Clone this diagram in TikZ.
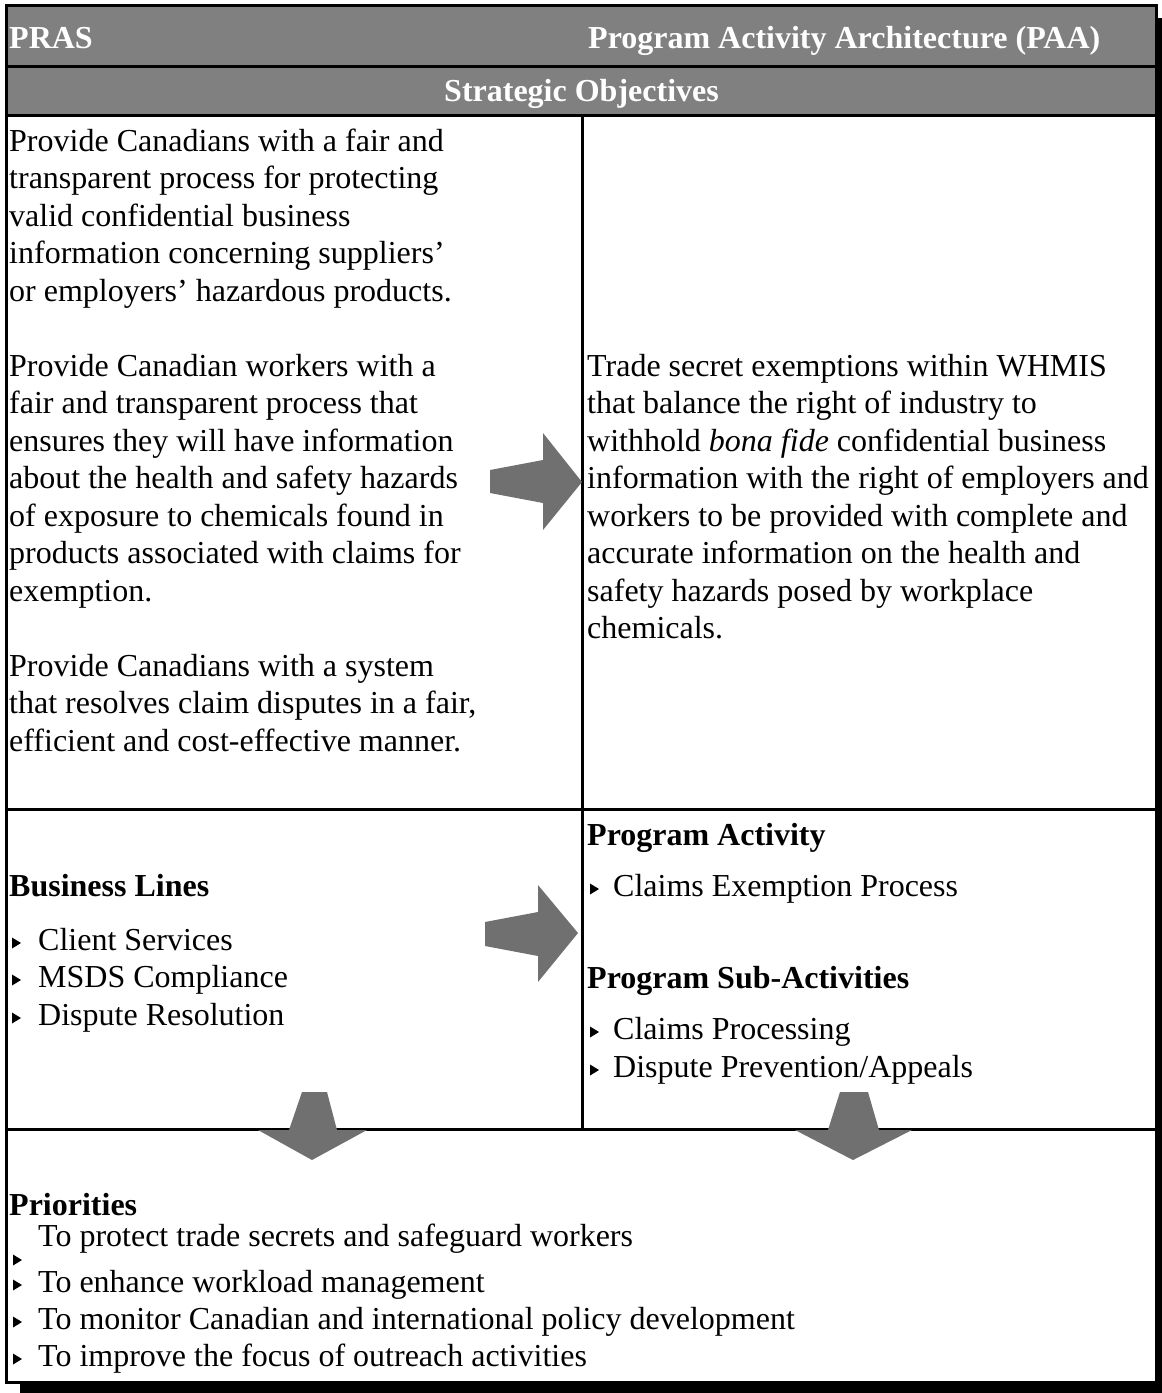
\documentclass[tikz,border=0pt]{standalone}
\usepackage{fontspec}
\setmainfont{Liberation Serif}
\definecolor{hdgray}{RGB}{128,128,128}
\definecolor{argray}{RGB}{112,112,112}
\begin{document}
\begin{tikzpicture}[x=1pt,y=-1pt,
  txt/.style={anchor=base west, inner sep=0pt, font=\fontsize{32}{37.5}\selectfont},
  bld/.style={txt, font=\fontsize{32}{37.5}\selectfont\bfseries},
  hd/.style={bld, text=white},
  frame/.style={line width=3pt},
  blockarrow/.style={fill=argray, draw=none},
  bul/.pic={\fill (0,-5.5) -- (0,5.5) -- (9,0) -- cycle;}]
\useasboundingbox (0,0) rectangle (1162,1393);
% shadow and frame
\fill[black] (20,18) rectangle (1162,1393);
\fill[white] (6.5,5.5) rectangle (1156.5,1382.5);
\fill[hdgray] (6.5,5.5) rectangle (1156.5,115);
\draw[frame] (6.5,5.5) rectangle (1156.5,1382.5);
\draw[frame] (6.5,66.5) -- (1156.5,66.5);
\draw[frame] (6.5,115) -- (1156.5,115);
\draw[frame] (6.5,809) -- (1156.5,809);
\draw[frame] (6.5,1129) -- (1156.5,1129);
\draw[frame] (582,115) -- (582,1129);
% header
\node[hd] (pras) at (9,48) {PRAS};
\node[hd] (paa) at (588,48) {Program Activity Architecture (PAA)};
\node[hd, anchor=base] (so) at (581.5,101) {Strategic Objectives};
% left column
\node[txt] (l0) at (9,151) {Provide Canadians with a fair and};
\node[txt] (l1) at (9,188.5) {transparent process for protecting};
\node[txt] (l2) at (9,226) {valid confidential business};
\node[txt] (l3) at (9,263.5) {information concerning suppliers’};
\node[txt] (l4) at (9,301) {or employers’ hazardous products.};
\node[txt] (l6) at (9,376) {Provide Canadian workers with a};
\node[txt] (l7) at (9,413.5) {fair and transparent process that};
\node[txt] (l8) at (9,451) {ensures they will have information};
\node[txt] (l9) at (9,488.5) {about the health and safety hazards};
\node[txt] (l10) at (9,526) {of exposure to chemicals found in};
\node[txt] (l11) at (9,563.5) {products associated with claims for};
\node[txt] (l12) at (9,601) {exemption.};
\node[txt] (l14) at (9,676) {Provide Canadians with a system};
\node[txt] (l15) at (9,713.5) {that resolves claim disputes in a fair,};
\node[txt] (l16) at (9,751) {efficient and cost-effective manner.};
% right column
\node[txt] (r0) at (587,376) {Trade secret exemptions within WHMIS};
\node[txt] (r1) at (587,413.5) {that balance the right of industry to};
\node[txt] (r2) at (587,451) {withhold \textit{bona fide} confidential business};
\node[txt] (r3) at (587,488.5) {information with the right of employers and};
\node[txt] (r4) at (587,526) {workers to be provided with complete and};
\node[txt] (r5) at (587,563.5) {accurate information on the health and};
\node[txt] (r6) at (587,601) {safety hazards posed by workplace};
\node[txt] (r7) at (587,638.5) {chemicals.};
% business lines
\node[bld] (bl) at (9,896) {Business Lines};
\pic at (12,943) {bul}; \node[txt] (b1) at (38,950) {Client Services};
\pic at (12,980) {bul}; \node[txt] (b2) at (38,987) {MSDS Compliance};
\pic at (12,1018) {bul}; \node[txt] (b3) at (38,1025) {Dispute Resolution};
% program activity
\node[bld] (pa) at (587,845) {Program Activity};
\pic at (590,889) {bul}; \node[txt] (p1) at (613,896) {Claims Exemption Process};
\node[bld] (psa) at (587,988) {Program Sub-Activities};
\pic at (590,1032) {bul}; \node[txt] (p2) at (613,1039) {Claims Processing};
\pic at (590,1070) {bul}; \node[txt] (p3) at (613,1077) {Dispute Prevention/Appeals};
% priorities
\node[bld] (pr) at (9,1215) {Priorities};
\pic at (13,1260) {bul}; \node[txt] (q1) at (38,1246) {To protect trade secrets and safeguard workers};
\pic at (13,1285) {bul}; \node[txt] (q2) at (38,1292) {To enhance workload management};
\pic at (13,1322) {bul}; \node[txt] (q3) at (38,1329) {To monitor Canadian and international policy development};
\pic at (13,1359) {bul}; \node[txt] (q4) at (38,1366) {To improve the focus of outreach activities};
% block arrows
\fill[blockarrow] (490,470) -- (543,460) -- (543,433) -- (582,482) -- (543,530) -- (543,503) -- (490,493) -- cycle;
\fill[blockarrow] (485,922) -- (538,912) -- (538,885) -- (578,933) -- (538,982) -- (538,956) -- (485,946) -- cycle;
\fill[blockarrow] (302,1092) -- (327,1092) -- (337,1130) -- (367,1130) -- (312,1160) -- (258,1130) -- (289,1130) -- cycle;
\fill[blockarrow] (840,1092) -- (868,1092) -- (879,1130) -- (912,1130) -- (853,1160) -- (795,1130) -- (828,1130) -- cycle;
\end{tikzpicture}
\end{document}
